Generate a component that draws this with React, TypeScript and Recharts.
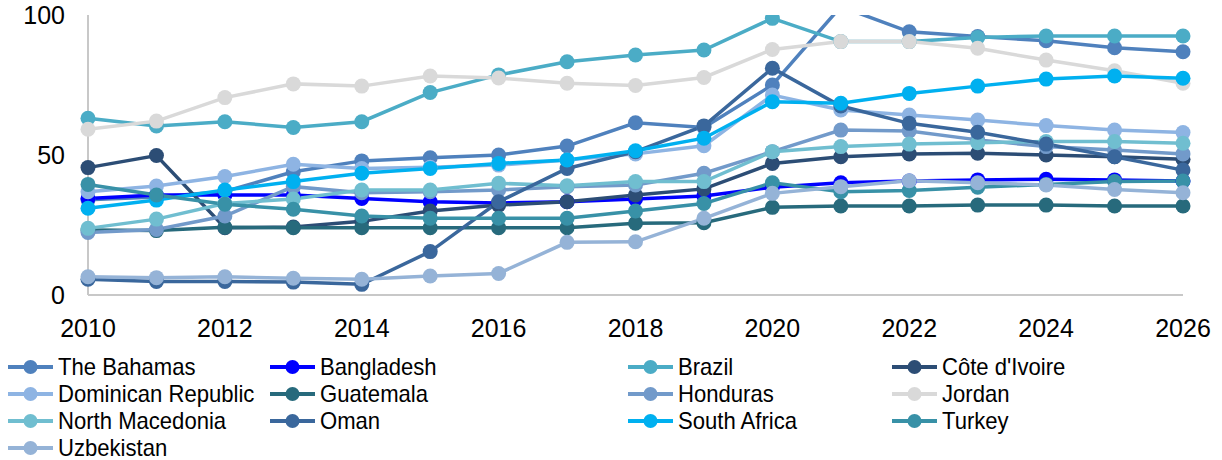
import React from 'react';
import { LineChart, Line, XAxis, YAxis } from 'recharts';

const years = [2010, 2011, 2012, 2013, 2014, 2015, 2016, 2017, 2018, 2019, 2020, 2021, 2022, 2023, 2024, 2025, 2026];
const yearTicks = [2010, 2012, 2014, 2016, 2018, 2020, 2022, 2024, 2026];
const valueTicks = [0, 50, 100];

const countries = [
    'The Bahamas', 'Bangladesh', 'Brazil', "Côte d'Ivoire",
    'Dominican Republic', 'Guatemala', 'Honduras', 'Jordan',
    'North Macedonia', 'Oman', 'South Africa', 'Turkey',
    'Uzbekistan',
];

const bahamas = [34, 35, 37, 44, 47.9, 49, 50, 53.2, 61.5, 59.8, 75, 103, 94, 92.3, 90.8, 88.3, 86.9];
const bangladesh = [34.5, 35.7, 35.7, 35.7, 34.5, 33.3, 32.9, 33.3, 34.3, 35.4, 38.5, 40.1, 40.7, 41.1, 41.3, 41.1, 40.7];
const brazil = [63.1, 60.4, 61.9, 59.8, 61.9, 72.3, 78.6, 83.3, 85.7, 87.5, 98.8, 90.5, 90.5, 92, 92.5, 92.5, 92.5];
const coteDIvoire = [45.5, 49.8, 24, 24.3, 26.3, 30, 32.1, 33.3, 35.7, 37.9, 47, 49.4, 50.4, 50.6, 50, 49.4, 48.5];
const dominicanRepublic = [36.9, 38.9, 42.3, 46.7, 45.2, 45.6, 46.4, 48.2, 50.4, 53.3, 71.4, 66.1, 64.3, 62.5, 60.5, 58.9, 58];
const guatemala = [23.2, 23, 24.2, 24, 24, 24, 24, 24, 25.6, 25.8, 31.3, 31.8, 31.8, 32.1, 32.1, 31.8, 31.8];
const honduras = [22.3, 23.4, 28.2, 38.7, 36.5, 36.9, 37.5, 38.7, 39.3, 43.5, 51.2, 58.9, 58.6, 55.4, 53, 51.8, 50.4];
const jordan = [59.2, 62.1, 70.5, 75.4, 74.6, 78.2, 77.5, 75.6, 74.8, 77.7, 87.7, 90.5, 90.5, 88.1, 83.9, 80.1, 75.6];
const northMacedonia = [23.8, 27.1, 32.7, 34.3, 37.5, 37.5, 39.9, 39, 40.5, 40.5, 51.2, 53, 53.9, 54.4, 54.8, 54.8, 54.2];
const oman = [5.6, 4.8, 4.8, 4.6, 3.8, 15.5, 33.3, 45.2, 51.2, 60.4, 81, 67.5, 61.3, 58.1, 53.9, 49.4, 44.6];
const southAfrica = [31, 33.9, 37.5, 40.5, 43.5, 45.2, 47, 48.2, 51.5, 56, 69, 68.5, 72, 74.6, 77.1, 78.2, 77.4];
const turkey = [39.5, 35.7, 32.4, 30.6, 28.2, 27.4, 27.4, 27.4, 30, 32.7, 40.1, 36.9, 37.3, 38.5, 39.5, 40.5, 40.7];
const uzbekistan = [6.5, 6.2, 6.5, 6, 5.6, 6.8, 7.7, 18.8, 19, 27.4, 36.3, 38.7, 40.8, 40.1, 39.3, 37.7, 36.5];

const seriesValues = [
    bahamas, bangladesh, brazil, coteDIvoire,
    dominicanRepublic, guatemala, honduras, jordan,
    northMacedonia, oman, southAfrica, turkey,
    uzbekistan,
];

const colors = [
    '#4F81BD', '#0000FF', '#4BACC6', '#2C4D75',
    '#8EB4E3', '#276A7C', '#729ACA', '#D9D9D9',
    '#70BED0', '#3A679C', '#00B0F0', '#3891A7',
    '#95B3D7',
];

const chartData = years.map((year, i) => {
    const row: Record<string, number> = { year };
    countries.forEach((c, j) => {
        row[c] = seriesValues[j][i];
    });
    return row;
});

const FONT = '"Liberation Sans", Arial, sans-serif';
const Y_MAX = 100;

// legend columns are not evenly spaced
const legendCols = [8, 270, 628, 892];
const legendRowTop = 353;
const legendRowH = 27;

// points above the axis max are left out, the line itself gets clipped
const makeDot = (color: string) => (props: any) => {
    const { cx, cy, value, index } = props;
    if (value == null || value > Y_MAX || cx == null || cy == null) {
        return <g key={`d-${index}`} />;
    }
    return <circle key={`d-${index}`} cx={cx} cy={cy} r={7.5} fill={color} stroke="none" />;
};

const ChartLegend: React.FC = () => (
    <>
        {countries.map((name, i) => {
            const col = i % 4;
            const row = Math.floor(i / 4);
            return (
                <div
                    key={name}
                    style={{
                        position: 'absolute',
                        left: legendCols[col],
                        top: legendRowTop + row * legendRowH,
                        height: legendRowH,
                        display: 'flex',
                        alignItems: 'center',
                        whiteSpace: 'nowrap',
                        fontFamily: FONT,
                        fontSize: 24,
                        color: '#000',
                    }}
                >
                    <svg width={45} height={18} style={{ marginRight: 5, flexShrink: 0 }}>
                        <line x1={0} y1={9} x2={45} y2={9} stroke={colors[i]} strokeWidth={4} />
                        <circle cx={22.5} cy={9} r={7} fill={colors[i]} />
                    </svg>
                    <span style={{ display: 'inline-block', transform: 'scaleX(0.92)', transformOrigin: 'left center' }}>
                        {name}
                    </span>
                </div>
            );
        })}
    </>
);

const App: React.FC = () => {
    return (
        <div style={{ position: 'absolute', left: 0, top: 0, width: 1222, height: 460, background: '#fff' }}>
            <LineChart
                width={1222}
                height={460}
                data={chartData}
                margin={{ top: 15, right: 39, left: 0, bottom: 0 }}
            >
                <XAxis
                    dataKey="year"
                    type="number"
                    domain={[2010, 2026]}
                    ticks={yearTicks}
                    height={165}
                    tickLine={false}
                    tickSize={0}
                    tickMargin={24}
                    axisLine={{ stroke: '#C8C8C8', strokeWidth: 2 }}
                    tick={{ fill: '#000', fontSize: 25, fontFamily: FONT }}
                    interval={0}
                />
                <YAxis
                    type="number"
                    domain={[0, Y_MAX]}
                    ticks={valueTicks}
                    allowDataOverflow
                    width={88}
                    tickLine={false}
                    tickSize={0}
                    tickMargin={23}
                    axisLine={{ stroke: '#C8C8C8', strokeWidth: 2 }}
                    tick={{ fill: '#000', fontSize: 25, fontFamily: FONT }}
                />
                {countries.map((name, i) => (
                    <Line
                        key={name}
                        type="linear"
                        dataKey={name}
                        stroke={colors[i]}
                        strokeWidth={3.5}
                        dot={makeDot(colors[i])}
                        activeDot={false}
                        isAnimationActive={false}
                    />
                ))}
            </LineChart>
            <ChartLegend />
        </div>
    );
};

export default App;
